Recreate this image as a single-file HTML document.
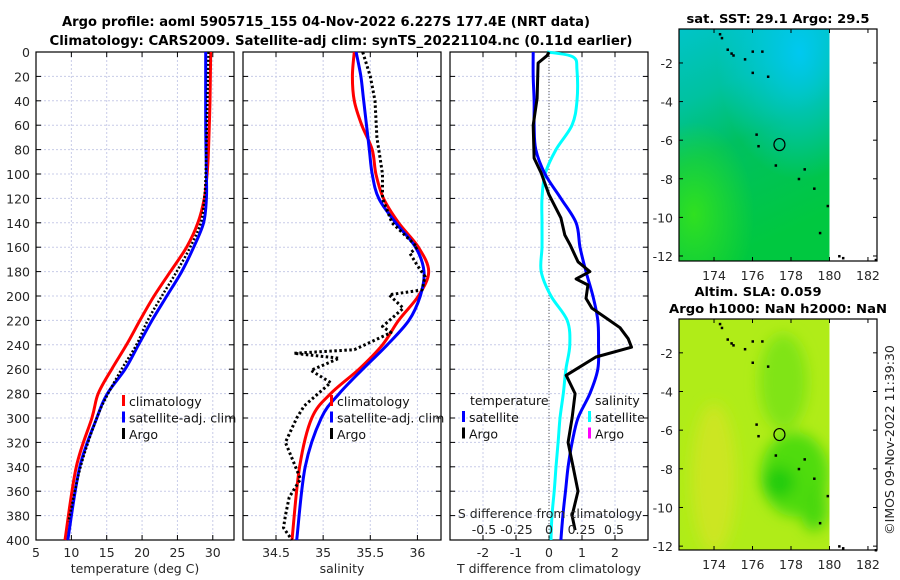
<!DOCTYPE html>
<html><head><meta charset="utf-8"><style>
body{margin:0;background:#fff;}
svg{display:block;font-family:"DejaVu Sans","Liberation Sans",sans-serif;}
</style></head><body>
<svg id="s" width="900" height="580" xmlns="http://www.w3.org/2000/svg">
<text x="326" y="26" text-anchor="middle" font-size="13.5" font-weight="bold" textLength="528" lengthAdjust="spacingAndGlyphs">Argo profile: aoml 5905715_155 04-Nov-2022 6.227S 177.4E (NRT data)</text>
<text x="341" y="45" text-anchor="middle" font-size="13.5" font-weight="bold" textLength="583" lengthAdjust="spacingAndGlyphs">Climatology: CARS2009. Satellite-adj clim: synTS_20221104.nc (0.11d earlier)</text>
<text x="778" y="23" text-anchor="middle" font-size="12.5" font-weight="bold" textLength="183" lengthAdjust="spacingAndGlyphs">sat. SST: 29.1 Argo: 29.5</text>
<text x="758" y="296" text-anchor="middle" font-size="12.5" font-weight="bold" textLength="127" lengthAdjust="spacingAndGlyphs">Altim. SLA: 0.059</text>
<text x="778" y="313" text-anchor="middle" font-size="12.5" font-weight="bold" textLength="218" lengthAdjust="spacingAndGlyphs">Argo h1000: NaN h2000: NaN</text>
<text transform="translate(894,440) rotate(-90)" text-anchor="middle" font-size="12.5" fill="#222">©IMOS 09-Nov-2022 11:39:30</text>
<defs>
<linearGradient id="g1" x1="0" y1="0" x2="0.3" y2="1"><stop offset="0" stop-color="#00c4c8"/><stop offset="0.3" stop-color="#00c2a0"/><stop offset="0.55" stop-color="#00c060"/><stop offset="1" stop-color="#00c840"/></linearGradient>
<radialGradient id="g1b" cx="0.8" cy="0.1" r="0.55"><stop offset="0" stop-color="#00c8f0"/><stop offset="1" stop-color="#00c8f0" stop-opacity="0"/></radialGradient>
<radialGradient id="g1c" cx="0.1" cy="0.8" r="0.4"><stop offset="0" stop-color="#30e020"/><stop offset="1" stop-color="#30e020" stop-opacity="0"/></radialGradient>
<filter id="bl"><feGaussianBlur stdDeviation="7"/></filter>
</defs>
<g id="plots"></g>
</svg>
<script>
// ---- data ----
const depthTicks=[0,20,40,60,80,100,120,140,160,180,200,220,240,260,280,300,320,340,360,380,400];
const tTicks=[5,10,15,20,25,30];
const sTicks=[34.5,35,35.5,36];
const dTTicks=[-2,-1,0,1,2];
const dSTicks=[-0.5,-0.25,0,0.25,0.5];
const dSTickLabels=['-0.5','-0.25','0','0.25','0.5'];
const climTDepth=[0,40,80,100,120,140,160,180,200,220,240,260,280,300,340,400];
const climT=[29.7,29.6,29.4,29.2,28.8,27.9,26.3,24.0,21.7,19.7,17.8,15.7,13.8,12.9,10.7,9.1];
const satTDepth=[0,60,100,120,140,160,180,200,220,240,260,280,300,340,400];
const satT=[29.0,29.0,29.1,29.1,28.7,27.3,25.6,23.5,21.4,19.5,17.6,15.1,13.6,11.2,9.5];
const argoTDepth=[0,50,100,120,140,160,180,200,220,240,260,280,300,340,385];
const argoT=[29.4,29.2,29.0,28.8,28.3,26.8,24.9,22.8,20.8,19.2,17.1,15.2,13.6,11.3,9.6];
const climSDepth=[0,20,40,60,80,100,120,140,160,180,200,220,240,260,280,300,340,400];
const climS=[35.33,35.31,35.33,35.41,35.52,35.56,35.64,35.8,36.01,36.12,36.01,35.8,35.63,35.38,35.08,34.88,34.75,34.67];
const satSDepth=[0,20,40,60,80,100,120,140,160,180,200,220,240,260,280,300,340,400];
const satS=[35.35,35.4,35.43,35.46,35.49,35.52,35.59,35.77,35.98,36.07,36.03,35.91,35.68,35.42,35.17,34.98,34.81,34.72];
const argoSDepth=[0,20,40,70,100,120,140,160,165,175,184,195,199,210,225,230,244,247,251,261,271,290,300,320,335,350,365,380,390,400];
const argoS=[35.42,35.5,35.55,35.57,35.63,35.63,35.73,36.0,35.92,36.0,36.08,36.05,35.7,35.85,35.63,35.72,35.33,34.69,35.17,34.87,35.08,34.8,34.72,34.6,34.68,34.76,34.64,34.6,34.58,34.67];
const dTDepth=[0,20,40,60,80,100,120,140,160,180,200,220,240,260,280,300,320,340,360,380,400];
const dTSat=[-0.48,-0.48,-0.45,-0.45,-0.4,-0.12,0.36,0.82,0.94,1.12,1.33,1.48,1.5,1.48,1.24,0.88,0.7,0.58,0.5,0.42,0.36];
const dTArgoDepth=[0,3,9,38,60,87,99,117,136,150,158,172,180,186,191,202,210,218,226,235,242,250,258,265,280,300,320,340,360,380,392];
const dTArgo=[0,-0.06,-0.33,-0.36,-0.48,-0.45,-0.24,0,0.36,0.48,0.64,0.88,1.24,0.82,1.18,1.12,1.3,1.73,2.15,2.4,2.5,1.42,0.94,0.52,0.79,0.7,0.58,0.73,0.88,0.7,0.79];
const dSDepth=[0,4,15,40,60,80,100,120,140,160,180,200,220,240,260,280,300,320,340,360,380,400];
const dSSat=[-0.015,0.185,0.215,0.215,0.177,0.054,-0.03,-0.054,-0.054,-0.054,-0.06,0.015,0.14,0.16,0.13,0.11,0.085,0.07,0.054,0.04,0.023,0.015];
const mapLonTicks=[174,176,178,180,182];
const mapLatTicks=[-2,-4,-6,-8,-10,-12];
const argoLon=177.4, argoLat=-6.227;
const coastLon=[174.3,174.4,174.7,174.9,175.0,176.0,176.5,175.6,176.0,176.8,176.2,176.3,177.2,178.7,178.4,179.2,179.9,179.5,180.5,180.7,182.4];
const coastLat=[-0.5,-0.7,-1.3,-1.5,-1.6,-1.4,-1.4,-1.8,-2.5,-2.7,-5.7,-6.3,-7.3,-7.5,-8.0,-8.5,-9.4,-10.8,-12.0,-12.1,-12.2];

const NS='http://www.w3.org/2000/svg';
const root=document.getElementById('plots');
function el(t,a,p){const e=document.createElementNS(NS,t);for(const k in a)e.setAttribute(k,a[k]);(p||root).appendChild(e);return e;}
function txt(x,y,s,a,p){const e=el('text',Object.assign({x:x,y:y,'font-size':12.5,fill:'#262626'},a||{}),p);e.textContent=s;return e;}
const Y0=52,Y1=540;
const yD=d=>Y0+d*(Y1-Y0)/400;

function panel(name,x0,x1,xmin,xmax,ticks,labels,xlabel){
  const g=el('g',{});
  
  
  const xs=v=>x0+(v-xmin)/(xmax-xmin)*(x1-x0);
  ticks.forEach((t,i)=>{
    const x=xs(t);
    const gl=el('line',{x1:x,x2:x,y1:Y0,y2:Y1,stroke:'#c8cce8','stroke-dasharray':'2,2','stroke-width':1},g);
    
    
    el('line',{x1:x,x2:x,y1:Y0,y2:Y0+5,stroke:'#000'},g);
    el('line',{x1:x,x2:x,y1:Y1,y2:Y1-5,stroke:'#000'},g);
    if(labels){const t2=txt(x,557,labels[i],{'text-anchor':'middle'},g);
      
      }
  });
  depthTicks.forEach(d=>{
    const y=yD(d);
    const gl=el('line',{x1:x0,x2:x1,y1:y,y2:y,stroke:'#c8cce8','stroke-dasharray':'2,2'},g);
    
    
    el('line',{x1:x0,x2:x0+5,y1:y,y2:y,stroke:'#000'},g);
    el('line',{x1:x1,x2:x1-5,y1:y,y2:y,stroke:'#000'},g);
  });
  const fr=el('rect',{x:x0,y:Y0,width:x1-x0,height:Y1-Y0,fill:'none',stroke:'#000','stroke-width':1.2},g);
  
  
  const xl=txt((x0+x1)/2,573,xlabel,{'text-anchor':'middle'},g);
  
  
  return {g,xs};
}
function line(p,xs,vals,depths,color,w,dash,name,smooth){
  const P=vals.map((v,i)=>[xs(v),yD(depths[i])]);
  let d='M'+P[0][0].toFixed(1)+','+P[0][1].toFixed(1);
  for(let i=0;i<P.length-1;i++){
    if(smooth){
      const p0=P[Math.max(i-1,0)],p1=P[i],p2=P[i+1],p3=P[Math.min(i+2,P.length-1)];
      const c1=[p1[0]+(p2[0]-p0[0])/6,p1[1]+(p2[1]-p0[1])/6];
      const c2=[p2[0]-(p3[0]-p1[0])/6,p2[1]-(p3[1]-p1[1])/6];
      d+=' C'+c1[0].toFixed(1)+','+c1[1].toFixed(1)+' '+c2[0].toFixed(1)+','+c2[1].toFixed(1)+' '+p2[0].toFixed(1)+','+p2[1].toFixed(1);
    }else d+=' L'+P[i+1][0].toFixed(1)+','+P[i+1][1].toFixed(1);
  }
  const e=el('path',{d:d,fill:'none',stroke:color,'stroke-width':w,'stroke-linejoin':'round'},p);
  if(dash)e.setAttribute('stroke-dasharray',dash);
  
  
}
function legend(p,x,y,items){
  items.forEach((it,i)=>{
    const yy=y+i*16.5;
    el('rect',{x:x,y:yy-11,width:3,height:11,fill:it[1]},p);
    const t=txt(x+7,yy,it[0],{fill:'#111'},p);
    
    
  });
}

depthTicks.forEach(d=>{const t=txt(30,yD(d)+5,String(d),{'text-anchor':'end'});
  
  });

// Panel 1
const p1=panel('temperature-panel',36,234,5,33,tTicks,tTicks.map(String),'temperature (deg C)');
line(p1.g,p1.xs,climT,climTDepth,'#f00',3,null,'climatology-temperature-line',true);
line(p1.g,p1.xs,satT,satTDepth,'#00f',3,null,'satellite-temperature-line',true);
line(p1.g,p1.xs,argoT,argoTDepth,'#000',2.5,'2,2','argo-temperature-line',true);
legend(p1.g,122,406,[['climatology','#f00'],['satellite-adj. clim','#00f'],['Argo','#000']]);

// Panel 2
const p2=panel('salinity-panel',243,441,34.15,36.25,sTicks,sTicks.map(String),'salinity');
line(p2.g,p2.xs,climS,climSDepth,'#f00',3,null,'climatology-salinity-line',true);
line(p2.g,p2.xs,satS,satSDepth,'#00f',3,null,'satellite-salinity-line',true);
line(p2.g,p2.xs,argoS,argoSDepth,'#000',3,'2.5,2.5','argo-salinity-line',false);
legend(p2.g,330,406,[['climatology','#f00'],['satellite-adj. clim','#00f'],['Argo','#000']]);

// Panel 3
const p3=panel('difference-panel',450,648,-3,3,dTTicks,dTTicks.map(String),'T difference from climatology');
const sx=v=>549+v*130;
const zl=el('line',{x1:549,x2:549,y1:Y0,y2:Y1,stroke:'#555','stroke-dasharray':'1,2'},p3.g);


line(p3.g,sx,dSSat,dSDepth,'#0ff',3,null,'salinity-difference-satellite-line',true);
line(p3.g,p3.xs,dTSat,dTDepth,'#00f',3,null,'temperature-difference-satellite-line',true);
line(p3.g,p3.xs,dTArgo,dTArgoDepth,'#000',3,null,'temperature-difference-argo-line',false);
txt(550,518,'S difference from climatology',{'text-anchor':'middle'},p3.g);
dSTicks.forEach((t,i)=>{const e=txt(sx(t),534,dSTickLabels[i],{'text-anchor':'middle'},p3.g);
  
  });
txt(470,405,'temperature',{fill:'#111'},p3.g);
txt(595,405,'salinity',{fill:'#111'},p3.g);
legend(p3.g,462,422,[['satellite','#00f'],['Argo','#000']]);
legend(p3.g,588,422,[['satellite','#0ff'],['Argo','#f0f']]);

// Maps
function map(name,top,bottom,latTop,latBot,kind){
  const L=679,R=877,lonL=172.18,lonR=182.47;
  const g=el('g',{});
  
  
  const mx=v=>L+(v-lonL)/(lonR-lonL)*(R-L);
  const my=v=>top+(latTop-v)/(latTop-latBot)*(bottom-top);
  const cw=mx(180)-L;
  const cl=el('clipPath',{id:'c'+name},g);
  el('rect',{x:L,y:top,width:cw,height:bottom-top},cl);
  const cg=el('g',{'clip-path':'url(#c'+name+')'},g);
  if(kind==='sst'){
    el('rect',{x:L,y:top,width:cw,height:bottom-top,fill:'url(#g1)'},cg);
    el('rect',{x:L,y:top,width:cw,height:bottom-top,fill:'url(#g1b)'},cg);
    el('rect',{x:L,y:top,width:cw,height:bottom-top,fill:'url(#g1c)'},cg);
  }else{
    el('rect',{x:L,y:top,width:cw,height:bottom-top,fill:'#b0ec18'},cg);
    const b=el('g',{filter:'url(#bl)'},cg);
    el('ellipse',{cx:mx(174.0),cy:my(-8.5),rx:22,ry:75,fill:'#cce620'},b);
    el('ellipse',{cx:mx(177.6),cy:my(-3.5),rx:24,ry:48,fill:'#80e414'},b);
    el('ellipse',{cx:mx(178.2),cy:my(-8.3),rx:34,ry:42,fill:'#50dc10'},b);
    el('ellipse',{cx:mx(177.4),cy:my(-8.7),rx:16,ry:16,fill:'#20cc10'},b);
    el('ellipse',{cx:mx(179.2),cy:my(-10),rx:14,ry:24,fill:'#48d810'},b);
  }
  coastLon.forEach((lo,i)=>{
    const d=el('rect',{x:mx(lo)-1,y:my(coastLat[i])-1,width:2.5,height:2.5,fill:'#000'},g);
    
    
  });
  const c=el('ellipse',{cx:mx(argoLon),cy:my(argoLat),rx:5.5,ry:6,fill:'none',stroke:'#000','stroke-width':1.2},g);
  
  
  el('rect',{x:L,y:top,width:R-L,height:bottom-top,fill:'none',stroke:'#000','stroke-width':1.2},g);
  mapLonTicks.forEach(t=>{const x=mx(t);
    el('line',{x1:x,x2:x,y1:bottom,y2:bottom-4,stroke:'#000'},g);
    el('line',{x1:x,x2:x,y1:top,y2:top+4,stroke:'#000'},g);
    const e=txt(x,bottom+19,String(t),{'text-anchor':'middle'},g);
    
    });
  mapLatTicks.forEach(t=>{const y=my(t);
    el('line',{x1:L,x2:L+4,y1:y,y2:y,stroke:'#000'},g);
    el('line',{x1:R,x2:R-4,y1:y,y2:y,stroke:'#000'},g);
    const e=txt(L-6,y+5,String(t),{'text-anchor':'end'},g);
    
    });
}
map('sst-map',29,261,-0.24,-12.26,'sst');
map('sla-map',319,550,-0.25,-12.2,'sla');
</script>
</body></html>
